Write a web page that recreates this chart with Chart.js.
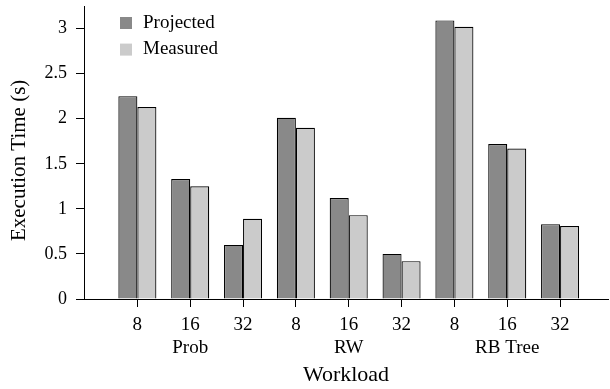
<!DOCTYPE html>
<html>
<head>
<meta charset="utf-8">
<script src="https://cdn.jsdelivr.net/npm/chart.js@4/dist/chart.umd.min.js"></script>
<style>
  html, body { margin: 0; padding: 0; background: #fff; }
  #wrap { width: 610px; height: 389px; }
</style>
</head>
<body>
<div id="wrap"><canvas id="c" width="610" height="389"></canvas></div>
<script>
// Thread counts per workload, with the workload name under the middle entry
const threads = ['8', '16', '32', '8', '16', '32', '8', '16', '32'];
const groups = ['', 'Prob', '', '', 'RW', '', '', 'RB Tree', ''];
const projected = [2.25, 1.33, 0.60, 2.01, 1.12, 0.50, 3.09, 1.72, 0.83];
const measured = [2.13, 1.25, 0.89, 1.90, 0.93, 0.42, 3.02, 1.67, 0.81];
const yTicks = [0, 0.5, 1, 1.5, 2, 2.5, 3];

const FONT = "'Liberation Serif', 'Times New Roman', serif";

// Legend drawn inside the plot area, top-left
const insideLegend = {
  id: 'insideLegend',
  afterDraw(chart) {
    const ctx = chart.ctx;
    ctx.save();
    ctx.font = '19px ' + FONT;
    ctx.textBaseline = 'alphabetic';
    ctx.textAlign = 'left';
    chart.data.datasets.forEach((ds, i) => {
      const y = 17 + i * 26.6;
      ctx.fillStyle = ds.backgroundColor;
      ctx.fillRect(120, y, 12, 12);
      ctx.fillStyle = '#000';
      ctx.fillText(ds.label, 143, y + 10.5);
    });
    ctx.restore();
  }
};

function noEdgePadding(scale) {
  scale.paddingTop = 0;
  scale.paddingBottom = 0;
  scale.paddingLeft = 0;
  scale.paddingRight = 0;
}

new Chart(document.getElementById('c'), {
  type: 'bar',
  data: {
    datasets: [
      {
        label: 'Projected',
        data: projected.map((v, i) => ({ x: i, y: v })),
        backgroundColor: '#898989',
        borderColor: '#000',
        borderWidth: 1.2
      },
      {
        label: 'Measured',
        data: measured.map((v, i) => ({ x: i, y: v })),
        backgroundColor: '#cbcbcb',
        borderColor: '#000',
        borderWidth: 1.2
      }
    ]
  },
  options: {
    responsive: false,
    animation: false,
    devicePixelRatio: 1,
    layout: { padding: { left: 0, right: 2, top: 6, bottom: 0 } },
    datasets: { bar: { categoryPercentage: 0.72, barPercentage: 1.0 } },
    plugins: {
      legend: { display: false },
      tooltip: { enabled: false }
    },
    scales: {
      x: {
        type: 'linear',
        offset: false,
        min: -1.01,
        max: 8.907,
        afterBuildTicks(scale) {
          scale.ticks = threads.map((_, i) => ({ value: i }));
        },
        afterFit(scale) { scale.height = 90; noEdgePadding(scale); },
        ticks: {
          autoSkip: false,
          maxRotation: 0,
          padding: 7,
          color: '#000',
          font: { family: FONT, size: 19, lineHeight: 1.19 },
          callback: (v) => groups[v] ? [threads[v], groups[v]] : [threads[v], '']
        },
        grid: {
          offset: false,
          drawOnChartArea: false,
          drawTicks: true,
          tickLength: 8,
          color: '#000'
        },
        border: { display: true, color: '#000', width: 1 },
        title: {
          display: true,
          text: 'Workload',
          color: '#000',
          font: { family: FONT, size: 22 },
          padding: { top: 0, bottom: 1 }
        }
      },
      y: {
        min: 0,
        max: 3.25,
        afterBuildTicks(scale) {
          scale.ticks = yTicks.map(v => ({ value: v }));
        },
        afterFit(scale) { scale.width = 84; noEdgePadding(scale); },
        ticks: {
          padding: 9,
          color: '#000',
          font: { family: FONT, size: 18 },
          callback: (v) => String(v)
        },
        grid: {
          drawOnChartArea: false,
          drawTicks: true,
          tickLength: 8,
          color: '#000'
        },
        border: { display: true, color: '#000', width: 1 },
        title: {
          display: true,
          text: 'Execution Time (s)   ',
          color: '#000',
          font: { family: FONT, size: 21 },
          padding: { top: 7, bottom: 0 }
        }
      }
    }
  },
  plugins: [insideLegend]
});
</script>
</body>
</html>
